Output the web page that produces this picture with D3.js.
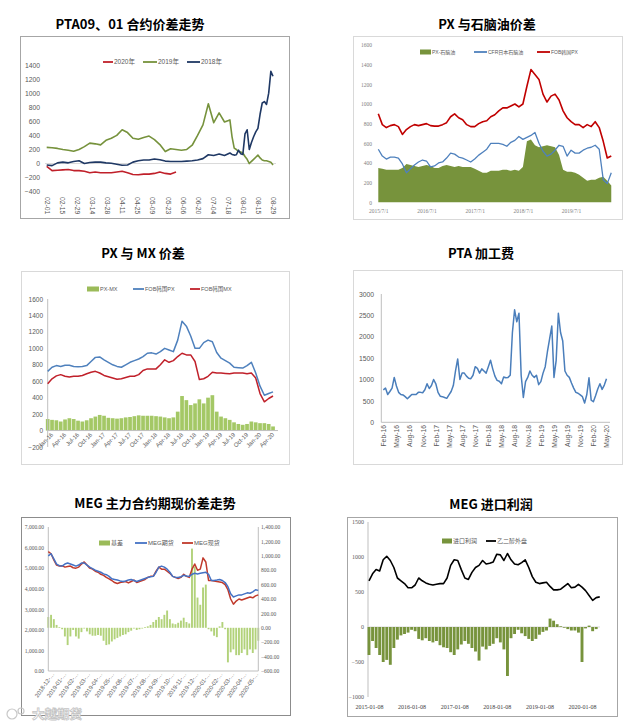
<!DOCTYPE html>
<html>
<head>
<meta charset="utf-8">
<script src="https://cdn.jsdelivr.net/npm/d3@7"></script>
<style>body { margin: 0; background: #fff; }</style>
</head>
<body>
<svg id="chart" width="638" height="728"></svg>
<script>
/* ---- PTA09、01 spread (days counted from 02-01) ---- */
var p1Days = [0,5,10,15,20,25,30,35,40,45,50,55,60,65,70,75,80,85,90,95,100,105,110,115,120,125,130,135,140,145,150,155,160,165,170,
	172,174,176,178,180,182,184,186,188,190,192,194,196,198,200,202,204,206,208,210]
var p1Y2018 = [-20,-30,10,20,10,30,40,0,15,20,20,10,5,-10,-25,-20,20,40,50,50,65,55,35,30,30,30,35,40,50,70,125,115,135,115,150,
	130,120,125,190,140,130,420,480,200,300,380,450,500,700,860,880,840,1000,1310,1240]
var p1Y2019 = [230,225,215,200,190,175,200,240,290,280,265,330,360,400,480,440,360,345,370,390,340,270,170,210,200,190,200,260,400,550,850,580,720,590,620,
	380,220,200,170,165,150,100,60,0,30,60,90,120,80,50,40,40,30,20,-20]
var p1Y2020 = [-40,-100,-95,-90,-85,-100,-100,-110,-130,-120,-130,-130,-130,-120,-110,-130,-155,-160,-150,-150,-140,-120,-140,-150,-120]
var p1TickDays = [0,14,28,42,56,70,84,98,112,126,140,154,168,182,196,210]
var p1TickLabels = ['02-01','02-15','02-29','03-14','03-28','04-11','04-25','05-09','05-23','06-06','06-20','07-04','07-18','08-01','08-15','08-29']
var p1YTicks = [-400,-200,0,200,400,600,800,1000,1200,1400]

/* ---- PX vs naphtha, monthly from 2015/7 ---- */
var p2PX = [900,790,760,780,790,770,690,740,770,790,780,790,800,780,775,775,790,810,870,900,860,840,790,770,770,800,820,830,870,890,
	930,960,960,980,1000,970,1000,1180,1350,1300,1250,1100,1020,1080,1100,1040,930,860,820,790,790,760,790,770,820,760,620,450,470]
var p2Naphtha = [540,470,440,460,460,450,390,300,340,380,410,430,420,360,370,400,410,450,500,490,460,450,430,410,440,480,510,540,600,600,
	600,590,570,610,630,670,640,660,680,710,600,520,470,490,530,580,570,470,530,500,500,530,550,560,580,540,230,190,300]
var p2Spread = [350,340,330,330,330,330,350,390,380,370,360,370,380,370,350,350,370,380,370,360,370,360,360,360,340,320,300,300,320,320,
	320,330,330,320,330,320,360,620,640,580,560,570,580,570,560,480,330,310,310,300,280,250,220,230,230,250,260,220,170]
var p2TickMonths = [0,12,24,36,48]
var p2TickLabels = ['2015/7/1','2016/7/1','2017/7/1','2018/7/1','2019/7/1']
var p2YTicks = [0,200,400,600,800,1000,1200,1400,1600]

/* ---- PX vs MX, monthly from Jan-16 ---- */
var p3PX = [720,770,790,780,795,795,780,775,780,790,840,890,895,860,830,800,780,770,800,830,850,870,900,940,945,930,960,1000,980,960,
	1100,1330,1270,1150,1000,1000,1070,1100,1080,950,880,850,820,770,765,760,790,830,700,540,430,450,470]
var p3MX = [570,630,665,680,660,650,660,660,670,690,710,720,700,670,655,640,625,630,645,660,660,680,730,750,750,750,800,860,830,850,
	900,940,920,920,840,620,630,660,710,700,700,695,690,700,700,700,690,700,640,450,350,390,420]
var p3Spread = [140,130,125,110,135,150,140,120,110,125,150,170,190,180,155,150,145,150,160,165,175,185,180,180,180,175,170,160,150,160,
	230,420,370,310,330,380,330,400,430,230,170,150,130,100,80,70,80,110,100,90,90,80,50]
var p3TickMonths = [0,3,6,9,12,15,18,21,24,27,30,33,36,39,42,45,48,51]
var p3TickLabels = ['Jan-16','Apr-16','Jul-16','Oct-16','Jan-17','Apr-17','Jul-17','Oct-17','Jan-18','Apr-18','Jul-18','Oct-18','Jan-19','Apr-19','Jul-19','Oct-19','Jan-20','Apr-20']
var p3YTicks = [-200,0,200,400,600,800,1000,1200,1400,1600]

/* ---- PTA processing fee, half-monthly from Feb-16 ---- */
var p4Fee = [760,800,650,720,800,1050,850,700,650,640,600,550,600,650,650,650,700,700,690,760,
	900,790,860,1000,900,700,610,600,580,560,640,720,860,1200,1480,1000,1150,1150,1080,1030,
	1020,1100,1300,1260,1150,1250,1200,1150,1300,1450,1250,1080,980,960,900,1060,1040,1050,1100,2100,
	2630,2350,2550,1100,580,950,1050,1200,1100,1050,1100,880,950,1150,1300,1650,1950,2250,1050,1450,
	2550,2100,1900,1200,1100,1050,920,800,700,680,640,600,450,650,1040,520,480,620,780,900,770,870,1020]
var p4TickSteps = [0,6,12,18,24,30,36,42,48,54,60,66,72,78,84,90,96,102]
var p4TickLabels = ['Feb-16','May-16','Aug-16','Nov-16','Feb-17','May-17','Aug-17','Nov-17','Feb-18','May-18','Aug-18','Nov-18','Feb-19','May-19','Aug-19','Nov-19','Feb-20','May-20']
var p4YTicks = [0,500,1000,1500,2000,2500,3000]

/* ---- MEG futures vs spot, weekly from 2018-12 ---- */
var p5Futures = [5600,5700,5450,5200,5120,5100,5200,5250,5200,5150,5100,5150,5250,5250,5150,5050,4980,4900,4850,4800,
	4720,4680,4600,4480,4450,4420,4380,4350,4380,4420,4450,4400,4350,4400,4450,4500,4550,4580,4600,4800,
	5050,5100,5050,4950,4800,4600,4550,4550,4580,4650,4620,4600,4700,4750,4720,4750,4780,4800,4700,4400,
	4400,4420,4450,4400,4300,4100,3750,3600,3650,3700,3700,3750,3800,3780,3850,3950,3920]
var p5Spot = [5800,5700,5400,5150,5100,5120,5050,5080,5100,5020,5000,5050,5200,5300,5150,5000,4950,4850,4800,4700,
	4650,4550,4480,4400,4300,4250,4300,4320,4350,4280,4350,4420,4300,4350,4400,4450,4550,4600,4600,4850,
	5050,4950,4950,4850,4750,4600,4550,4500,4550,4700,4600,4550,4950,5200,4900,4950,5500,5300,4400,4400,
	4380,4350,4330,4300,4200,3950,3500,3250,3400,3500,3450,3500,3550,3600,3560,3650,3700]
var p5Basis = [150,180,120,40,10,-20,-120,-240,-120,-30,-120,-150,-60,-10,-50,-90,-110,-110,-100,-110,
	-180,-240,-230,-190,-160,-140,-120,-100,-90,-60,-40,-10,-30,-20,-10,10,20,40,80,110,
	150,120,180,240,120,60,50,70,100,140,80,60,1100,850,420,320,560,600,-20,-50,
	-110,-130,20,80,-20,-480,-340,-300,-380,-380,-350,-300,-380,-300,-350,-300,-180]
var p5TickWeeks = [0,4.35,8.7,13,17.4,21.7,26.1,30.4,34.8,39.1,43.5,47.8,52.2,56.5,60.9,65.2,69.6,73.9]
var p5TickLabels = ['2018-12-…','2019-01-…','2019-02-…','2019-03-…','2019-04-…','2019-05-…','2019-06-…','2019-07-…','2019-08-…','2019-09-…','2019-10-…','2019-11-…','2019-12-…','2020-01-…','2020-02-…','2020-03-…','2020-04-…','2020-05-…']
var p5LeftTicks = [0,1000,2000,3000,4000,5000,6000,7000]
var p5RightTicks = [-600,-400,-200,0,200,400,600,800,1000,1200,1400]

/* ---- MEG import profit, monthly from 2015-01 ---- */
var p6Price = [660,760,820,800,960,1010,950,850,700,660,620,560,560,600,700,660,630,610,600,610,
	620,620,700,880,960,950,820,700,680,780,850,880,950,900,910,930,1040,1030,950,1050,
	960,900,890,920,960,850,720,640,620,630,640,580,530,530,540,580,620,560,570,610,570,520,450,380,420,430]
var p6Profit = [-400,-200,-300,-400,-500,-470,-540,-300,-180,-120,-100,-80,-40,-60,-170,-190,-160,-200,-220,-200,
	-260,-290,-300,-360,-400,-320,-250,-200,-240,-300,-350,-480,-280,-320,-270,-240,-160,-220,-320,-700,
	-160,-100,-40,-90,-130,-170,-200,-170,-110,-70,-50,120,90,40,10,-10,-30,-50,-50,-80,-500,-20,20,-60,-30,0]
var p6TickMonths = [0,12,24,36,48,60]
var p6TickLabels = ['2015-01-08','2016-01-08','2017-01-08','2018-01-08','2019-01-08','2020-01-08']
var p6YTicks = [-1000,-500,0,500,1000,1500]


var svg = d3.select('#chart')
var NUM = '"Liberation Sans Narrow", "Liberation Sans", "Noto Sans CJK SC", sans-serif'
var SERIF = '"Liberation Serif", "Noto Sans CJK SC", serif'
var CJK = '"Noto Sans CJK SC", sans-serif'
var plain = d3.format('d')

function box(x, y, w, h, color) {
	svg.append('rect').attr('x', x + 0.5).attr('y', y + 0.5).attr('width', w).attr('height', h)
		.attr('fill', 'none').attr('stroke', color)
}

function title(text, x, y) {
	svg.append('text').attr('x', x).attr('y', y).attr('text-anchor', 'middle')
		.attr('font-family', CJK).attr('font-weight', 'bold').attr('font-size', 13)
		.attr('fill', '#000').text(text)
}

function legend(items, y, size) {
	items.forEach(function(it) {
		if (it.type == 'rect') {
			svg.append('rect').attr('x', it.x).attr('y', y - 2.5).attr('width', it.w).attr('height', 5).attr('fill', it.color)
		} else {
			svg.append('line').attr('x1', it.x).attr('x2', it.x + it.w).attr('y1', y).attr('y2', y)
				.attr('stroke', it.color).attr('stroke-width', 1.8)
		}
		svg.append('text').attr('x', it.x + it.w + 1).attr('y', y).attr('dy', '0.35em')
			.attr('font-family', NUM).attr('font-size', size).attr('fill', '#595959').text(it.label)
	})
}

function hline(x1, x2, y, color) {
	svg.append('line').attr('x1', x1).attr('x2', x2).attr('y1', y).attr('y2', y).attr('stroke', color)
}
function vline(x, y1, y2, color) {
	svg.append('line').attr('x1', x).attr('x2', x).attr('y1', y1).attr('y2', y2).attr('stroke', color)
}

/* Styles the labels of an axis and drops its domain path */
function styleAxis(g, font, size, color) {
	g.select('.domain').remove()
	g.selectAll('text').attr('font-family', font).attr('font-size', size).attr('fill', color)
	return g
}

function drawLine(xs, ys, x, y, color, width) {
	var pts = ys.map(function(v, i) { return [xs[i], v] })
	svg.append('path').datum(pts)
		.attr('fill', 'none').attr('stroke', color).attr('stroke-width', width).attr('stroke-linejoin', 'round')
		.attr('d', d3.line().defined(function(d) { return d[1] != null }).x(function(d) { return x(d[0]) }).y(function(d) { return y(d[1]) }))
}

function drawBars(vals, x, y, width, color) {
	svg.append('g').selectAll('rect').data(vals).enter().append('rect')
		.attr('x', function(v, i) { return x(i) - width / 2 })
		.attr('y', function(v) { return Math.min(y(0), y(v)) })
		.attr('width', width)
		.attr('height', function(v) { return Math.abs(y(v) - y(0)) })
		.attr('fill', color)
}

function indexList(n) {
	var out = []
	for (var i = 0; i < n; i++) out.push(i)
	return out
}


/* ================= Panel 1 ================= */
title('PTA09、01 合约价差走势', 130, 29)
box(20, 36, 269, 182, '#a6a6a6')
var x1 = d3.scaleLinear().domain([0, 210]).range([46.7, 273])
var y1 = d3.scaleLinear().domain([-400, 1400]).range([191.7, 65])
hline(45, 276, y1(0), '#d9d9d9')
styleAxis(svg.append('g').attr('transform', 'translate(40,0)')
	.call(d3.axisLeft(y1).tickValues(p1YTicks).tickFormat(plain).tickSize(0).tickPadding(0)), NUM, 6.8, '#595959')
styleAxis(svg.append('g').attr('transform', 'translate(0,196)')
	.call(d3.axisBottom(x1).tickValues(p1TickDays).tickFormat(function(d, i) { return p1TickLabels[i] }).tickSize(0)), NUM, 6.8, '#595959')
	.selectAll('text').attr('transform', 'rotate(90)').attr('text-anchor', 'start').attr('x', 1).attr('y', 0).attr('dy', '0.35em')
drawLine(p1Days, p1Y2019, x1, y1, '#76923c', 1.6)
drawLine(p1Days, p1Y2018, x1, y1, '#1f3864', 1.6)
drawLine(p1Days.slice(0, p1Y2020.length), p1Y2020, x1, y1, '#c0202a', 1.6)
legend([
	{ type: 'line', x: 103, w: 10, color: '#c0202a', label: '2020年' },
	{ type: 'line', x: 143, w: 14, color: '#76923c', label: '2019年' },
	{ type: 'line', x: 187, w: 13, color: '#1f3864', label: '2018年' }
], 62, 6.5)


/* ================= Panel 2 ================= */
title('PX 与石脑油价差', 487, 29)
box(353, 36, 269, 183, '#d9d9d9')
var x2 = d3.scaleLinear().domain([0, 12]).range([378.3, 426.5])
var y2 = d3.scaleLinear().domain([0, 1600]).range([202.3, 45])
styleAxis(svg.append('g').attr('transform', 'translate(372,0)')
	.call(d3.axisLeft(y2).tickValues(p2YTicks).tickFormat(plain).tickSize(0).tickPadding(0)), SERIF, 5.5, '#7f7f7f')
styleAxis(svg.append('g').attr('transform', 'translate(0,209)')
	.call(d3.axisBottom(x2).tickValues(p2TickMonths).tickFormat(function(d, i) { return p2TickLabels[i] }).tickSize(0).tickPadding(0)), SERIF, 5.5, '#7f7f7f')
var p2Idx = indexList(p2Spread.length)
svg.append('path').datum(p2Idx)
	.attr('fill', '#77933c')
	.attr('d', d3.area().x(function(i) { return x2(i) }).y0(y2(0)).y1(function(i) { return y2(p2Spread[i]) }))
drawLine(p2Idx, p2Naphtha, x2, y2, '#4f81bd', 1.3)
drawLine(p2Idx, p2PX, x2, y2, '#c00000', 1.6)
legend([
	{ type: 'rect', x: 420, w: 11, color: '#77933c', label: 'PX-石脑油' },
	{ type: 'line', x: 474, w: 13, color: '#4f81bd', label: 'CFR日本石脑油' },
	{ type: 'line', x: 537, w: 13, color: '#c00000', label: 'FOB韩国PX' }
], 52, 5)


/* ================= Panel 3 ================= */
title('PX 与 MX 价差', 143, 258)
box(21, 271, 268, 193, '#d9d9d9')
var x3 = d3.scaleLinear().domain([0, 3]).range([47.7, 60.7])
var y3 = d3.scaleLinear().domain([-200, 1600]).range([447, 299])
drawBars(p3Spread, x3, y3, 3.7, '#a4c866')
vline(47.7, 299, 447, '#bfbfbf')
hline(47.7, 278, y3(0), '#bfbfbf')
styleAxis(svg.append('g').attr('transform', 'translate(43,0)')
	.call(d3.axisLeft(y3).tickValues(p3YTicks).tickFormat(plain).tickSize(0).tickPadding(0)), NUM, 6.5, '#595959')
styleAxis(svg.append('g').attr('transform', 'translate(0,' + (y3(0) + 3) + ')')
	.call(d3.axisBottom(x3).tickValues(p3TickMonths).tickFormat(function(d, i) { return p3TickLabels[i] }).tickSize(0).tickPadding(0)), NUM, 6, '#595959')
	.selectAll('text').attr('transform', 'translate(4,0) rotate(-45)').attr('text-anchor', 'end').attr('x', 0).attr('y', 0).attr('dy', '0.35em')
var p3Idx = indexList(p3PX.length)
drawLine(p3Idx, p3MX, x3, y3, '#c0202a', 1.5)
drawLine(p3Idx, p3PX, x3, y3, '#4f81bd', 1.5)
legend([
	{ type: 'rect', x: 87, w: 12, color: '#9bbb59', label: 'PX-MX' },
	{ type: 'line', x: 133, w: 11, color: '#4f81bd', label: 'FOB韩国PX' },
	{ type: 'line', x: 190, w: 10, color: '#c0202a', label: 'FOB韩国MX' }
], 289, 5.5)


/* ================= Panel 4 ================= */
title('PTA 加工费', 481, 258)
box(353, 270, 269, 194, '#d9d9d9')
var x4 = d3.scaleLinear().domain([0, 102]).range([383.3, 606.5])
var y4 = d3.scaleLinear().domain([0, 3000]).range([422.3, 294])
vline(381.3, 294, 422.3, '#bfbfbf')
hline(381.3, 610, 422.3, '#bfbfbf')
styleAxis(svg.append('g').attr('transform', 'translate(374,0)')
	.call(d3.axisLeft(y4).tickValues(p4YTicks).tickFormat(plain).tickSize(0).tickPadding(0)), NUM, 6.8, '#595959')
styleAxis(svg.append('g').attr('transform', 'translate(0,425)')
	.call(d3.axisBottom(x4).tickValues(p4TickSteps).tickFormat(function(d, i) { return p4TickLabels[i] }).tickSize(0).tickPadding(0)), NUM, 6.8, '#595959')
	.selectAll('text').attr('transform', 'rotate(-90)').attr('text-anchor', 'end').attr('x', 0).attr('y', 0).attr('dy', '0.35em')
drawLine(indexList(p4Fee.length), p4Fee, x4, y4, '#4a7ebb', 1.5)


/* ================= Panel 5 ================= */
title('MEG 主力合约期现价差走势', 155, 508)
box(21, 517, 269, 198, '#8c8c8c')
var x5 = d3.scaleLinear().domain([0, 76]).range([48.3, 258.3])
var y5 = d3.scaleLinear().domain([0, 7000]).range([671, 527])
var y5r = d3.scaleLinear().domain([-600, 1400]).range([671, 527])
drawBars(p5Basis, x5, y5r, 1.9, '#b2d27a')
vline(48.3, 527, 671, '#bfbfbf')
vline(258.3, 527, 671, '#bfbfbf')
hline(48.3, 258.3, 671, '#bfbfbf')
styleAxis(svg.append('g').attr('transform', 'translate(44,0)')
	.call(d3.axisLeft(y5).tickValues(p5LeftTicks).tickFormat(d3.format(',.2f')).tickSize(0).tickPadding(0)), SERIF, 5.5, '#595959')
styleAxis(svg.append('g').attr('transform', 'translate(261,0)')
	.call(d3.axisRight(y5r).tickValues(p5RightTicks).tickFormat(d3.format(',.2f')).tickSize(0).tickPadding(0)), SERIF, 5.5, '#595959')
styleAxis(svg.append('g').attr('transform', 'translate(0,673)')
	.call(d3.axisBottom(x5).tickValues(p5TickWeeks).tickFormat(function(d, i) { return p5TickLabels[i] }).tickSize(0).tickPadding(0)), NUM, 5.8, '#595959')
	.selectAll('text').attr('transform', 'translate(4,0) rotate(-55)').attr('text-anchor', 'end').attr('x', 0).attr('y', 0).attr('dy', '0.35em')
var p5Idx = indexList(p5Spot.length)
drawLine(p5Idx, p5Spot, x5, y5, '#c0392b', 1.5)
drawLine(p5Idx, p5Futures, x5, y5, '#4472c4', 1.5)
legend([
	{ type: 'rect', x: 99, w: 11, color: '#9bbb59', label: '基差' },
	{ type: 'line', x: 135, w: 12, color: '#4472c4', label: 'MEG期货' },
	{ type: 'line', x: 182, w: 11, color: '#c0392b', label: 'MEG现货' }
], 543, 6)

/* watermark */
svg.append('circle').attr('cx', 12).attr('cy', 714).attr('r', 5).attr('fill', 'none').attr('stroke', '#c8c8c8').attr('stroke-width', 1.2)
svg.append('circle').attr('cx', 21).attr('cy', 711).attr('r', 3).attr('fill', 'none').attr('stroke', '#c8c8c8').attr('stroke-width', 1.2)
svg.append('text').attr('x', 32).attr('y', 719).attr('font-family', CJK).attr('font-weight', 'bold').attr('font-size', 12.5)
	.attr('fill', '#fff').attr('stroke', '#c4c4c4').attr('stroke-width', 0.8).text('大越期货')


/* ================= Panel 6 ================= */
title('MEG 进口利润', 491, 509)
box(347, 517, 270, 199, '#a6a6a6')
var x6 = d3.scaleLinear().domain([0, 12]).range([369, 411.6])
var y6 = d3.scaleLinear().domain([-1000, 1500]).range([697, 522])
vline(368, 522, 697, '#bfbfbf')
hline(368, 600, y6(0), '#d9d9d9')
drawBars(p6Profit, x6, y6, 2.9, '#77933c')
styleAxis(svg.append('g').attr('transform', 'translate(364,0)')
	.call(d3.axisLeft(y6).tickValues(p6YTicks).tickFormat(plain).tickSize(0).tickPadding(0)), SERIF, 6, '#595959')
styleAxis(svg.append('g').attr('transform', 'translate(0,705)')
	.call(d3.axisBottom(x6).tickValues(p6TickMonths).tickFormat(function(d, i) { return p6TickLabels[i] }).tickSize(0).tickPadding(0)), SERIF, 6, '#404040')
drawLine(indexList(p6Price.length), p6Price, x6, y6, '#000', 1.6)
legend([
	{ type: 'rect', x: 442, w: 10, color: '#77933c', label: '进口利润' },
	{ type: 'line', x: 486, w: 10, color: '#000', label: '乙二醇外盘' }
], 541, 6)
</script>
</body>
</html>
